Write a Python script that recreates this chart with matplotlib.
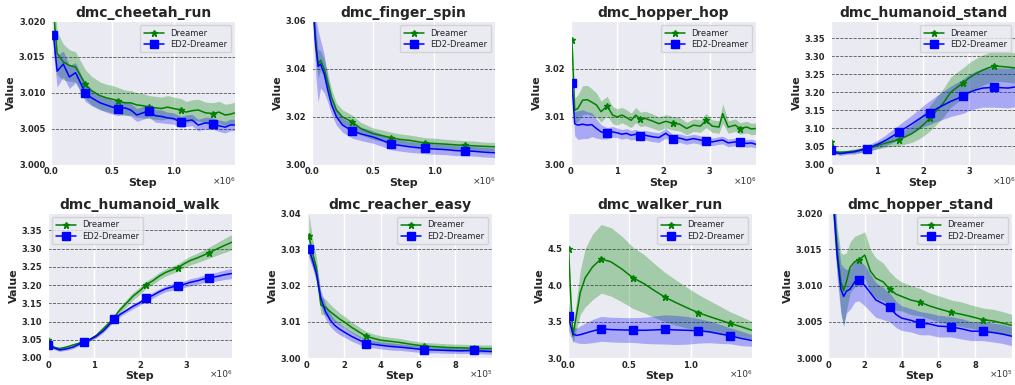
import matplotlib
matplotlib.use("Agg")
import numpy as np
import matplotlib.pyplot as plt
import seaborn as sns
from matplotlib.ticker import FormatStrFormatter, FuncFormatter

sns.set_style("darkgrid")
plt.rcParams['font.family'] = ['DejaVu Sans']
plt.rcParams['font.weight'] = 'bold'

# ---------------- data ----------------
# dmc_cheetah_run (steps in 1e6)
cheetah_steps = [0.02, 0.05, 0.1, 0.15, 0.2, 0.28, 0.33, 0.4, 0.45, 0.5, 0.55, 0.6, 0.65, 0.7, 0.75,
                 0.8, 0.85, 0.9, 0.95, 1.0, 1.06, 1.1, 1.15, 1.2, 1.26, 1.32, 1.37, 1.42, 1.46, 1.5]
cheetah_dreamer = [3.0215, 3.0155, 3.0143, 3.0138, 3.0136, 3.0112, 3.0103, 3.0096, 3.0093, 3.0091,
                   3.0089, 3.0086, 3.0086, 3.0083, 3.0082, 3.0080, 3.0079, 3.0078, 3.0080, 3.0078,
                   3.0076, 3.0073, 3.0075, 3.0076, 3.0072, 3.0071, 3.0073, 3.0069, 3.0070, 3.0072]
cheetah_dreamer_sd = [0.0040, 0.0030, 0.0025, 0.0022, 0.0021, 0.0020, 0.0020, 0.0019, 0.0019, 0.0019,
                      0.0018, 0.0018, 0.0017, 0.0017, 0.0017, 0.0016, 0.0016, 0.0016, 0.0016, 0.0016,
                      0.0016, 0.0015, 0.0015, 0.0015, 0.0015, 0.0015, 0.0015, 0.0015, 0.0015, 0.0015]
cheetah_ed2 = [3.0180, 3.0130, 3.0140, 3.0122, 3.0128, 3.0100, 3.0093, 3.0086, 3.0083, 3.0080,
               3.0078, 3.0079, 3.0076, 3.0069, 3.0072, 3.0075, 3.0068, 3.0067, 3.0065, 3.0064,
               3.0059, 3.0061, 3.0062, 3.0055, 3.0058, 3.0057, 3.0054, 3.0052, 3.0055, 3.0055]
cheetah_ed2_sd = [0.0025, 0.0022, 0.0018, 0.0016, 0.0014, 0.0012, 0.0011, 0.0010, 0.0010, 0.0010,
                  0.0010, 0.0009, 0.0009, 0.0009, 0.0009, 0.0009, 0.0009, 0.0009, 0.0008, 0.0008,
                  0.0008, 0.0008, 0.0008, 0.0008, 0.0008, 0.0008, 0.0008, 0.0008, 0.0008, 0.0008]

# dmc_finger_spin (steps in 1e6)
finger_steps = [0.01, 0.03, 0.05, 0.07, 0.1, 0.13, 0.16, 0.2, 0.25, 0.33, 0.4, 0.5, 0.58, 0.65, 0.72,
                0.8, 0.87, 0.93, 1.0, 1.1, 1.18, 1.25, 1.33, 1.4, 1.5]
finger_dreamer = [3.066, 3.052, 3.042, 3.0436, 3.040, 3.034, 3.028, 3.0227, 3.0199, 3.0178, 3.015,
                  3.0129, 3.012, 3.0112, 3.0105, 3.0101, 3.0095, 3.009, 3.0088, 3.0085, 3.0082,
                  3.008, 3.0078, 3.0076, 3.0074]
finger_dreamer_sd = [0.006, 0.006, 0.006, 0.004, 0.004, 0.004, 0.0035, 0.003, 0.003, 0.0028, 0.0026,
                     0.0024, 0.0024, 0.0023, 0.0023, 0.0022, 0.0022, 0.0022, 0.0022, 0.002, 0.002,
                     0.002, 0.002, 0.0018, 0.0018]
finger_ed2 = [3.065, 3.050, 3.041, 3.042, 3.038, 3.031, 3.025, 3.020, 3.0165, 3.014, 3.0128, 3.0115,
              3.0100, 3.0085, 3.0080, 3.0074, 3.0070, 3.0067, 3.0065, 3.0062, 3.0058, 3.0057,
              3.0055, 3.0052, 3.0049]
finger_ed2_sd = [0.008, 0.012, 0.015, 0.010, 0.008, 0.005, 0.004, 0.0035, 0.003, 0.003, 0.0028, 0.0026,
                 0.0025, 0.0024, 0.0024, 0.0023, 0.0022, 0.0022, 0.0022, 0.0021, 0.0021, 0.002,
                 0.002, 0.002, 0.002]

# dmc_hopper_hop (steps in 1e6)
hop_steps = [0.02, 0.08, 0.15, 0.25, 0.35, 0.45, 0.55, 0.65, 0.78, 0.9, 1.0, 1.1, 1.2, 1.3, 1.4, 1.5,
             1.6, 1.75, 1.9, 2.05, 2.2, 2.35, 2.5, 2.65, 2.8, 2.92, 3.05, 3.2, 3.28, 3.4, 3.55, 3.65,
             3.8, 3.9, 4.0]
hop_dreamer = [3.0260, 3.0113, 3.0117, 3.0134, 3.0135, 3.0130, 3.0124, 3.0110, 3.0122, 3.0103,
               3.0099, 3.0103, 3.0098, 3.0092, 3.0103, 3.0094, 3.0096, 3.0091, 3.0085, 3.0090,
               3.0086, 3.0084, 3.0075, 3.0082, 3.0080, 3.0092, 3.0080, 3.0078, 3.0106, 3.0078,
               3.0082, 3.0075, 3.0078, 3.0074, 3.0075]
hop_dreamer_sd = [0.0010, 0.0025, 0.0028, 0.0030, 0.0030, 0.0028, 0.0025, 0.0022, 0.0020, 0.0018,
                  0.0017, 0.0016, 0.0016, 0.0015, 0.0016, 0.0015, 0.0015, 0.0015, 0.0014, 0.0014,
                  0.0014, 0.0014, 0.0013, 0.0013, 0.0013, 0.0015, 0.0013, 0.0013, 0.0020, 0.0013,
                  0.0013, 0.0012, 0.0012, 0.0012, 0.0012]
hop_ed2 = [3.0169, 3.0085, 3.0082, 3.0084, 3.0082, 3.0083, 3.0075, 3.0068, 3.0065, 3.0068, 3.0066,
           3.0063, 3.0065, 3.0061, 3.0063, 3.0059, 3.0061, 3.0058, 3.0056, 3.0065, 3.0054, 3.0055,
           3.0051, 3.0054, 3.0051, 3.0049, 3.0047, 3.0050, 3.0051, 3.0045, 3.0047, 3.0047, 3.0044,
           3.0045, 3.0042]
hop_ed2_sd = [0.0015, 0.0025, 0.0030, 0.0030, 0.0028, 0.0025, 0.0020, 0.0015, 0.0012, 0.0011,
              0.0010, 0.0010, 0.0010, 0.0010, 0.0010, 0.0010, 0.0010, 0.0010, 0.0010, 0.0010,
              0.0009, 0.0009, 0.0009, 0.0009, 0.0009, 0.0009, 0.0008, 0.0008, 0.0008, 0.0008,
              0.0008, 0.0008, 0.0008, 0.0008, 0.0008]

# dmc_humanoid_stand (steps in 1e6)
hstand_steps = [0, 0.1, 0.2, 0.35, 0.5, 0.65, 0.78, 0.9, 1.05, 1.2, 1.33, 1.47, 1.6, 1.75, 1.9, 2.02,
                2.15, 2.3, 2.45, 2.6, 2.75, 2.88, 3.0, 3.15, 3.3, 3.42, 3.55, 3.7, 3.85, 4.0]
hstand_dreamer = [3.063, 3.035, 3.034, 3.035, 3.037, 3.040, 3.044, 3.048, 3.054, 3.060, 3.064, 3.069,
                  3.076, 3.085, 3.098, 3.112, 3.128, 3.150, 3.172, 3.200, 3.215, 3.227, 3.240, 3.252,
                  3.262, 3.268, 3.273, 3.272, 3.270, 3.268]
hstand_dreamer_sd = [0.008, 0.005, 0.005, 0.005, 0.006, 0.006, 0.007, 0.008, 0.010, 0.012, 0.014,
                     0.016, 0.020, 0.024, 0.028, 0.032, 0.035, 0.038, 0.040, 0.042, 0.042, 0.042,
                     0.042, 0.042, 0.042, 0.042, 0.042, 0.042, 0.042, 0.042]
hstand_ed2 = [3.040, 3.033, 3.030, 3.033, 3.035, 3.040, 3.044, 3.050, 3.058, 3.068, 3.078, 3.089,
              3.100, 3.112, 3.125, 3.135, 3.144, 3.155, 3.165, 3.175, 3.183, 3.190, 3.200, 3.207,
              3.212, 3.213, 3.214, 3.213, 3.212, 3.215]
hstand_ed2_sd = [0.006, 0.005, 0.005, 0.005, 0.006, 0.007, 0.008, 0.010, 0.012, 0.015, 0.018, 0.020,
                 0.022, 0.024, 0.027, 0.030, 0.033, 0.036, 0.039, 0.042, 0.045, 0.048, 0.050, 0.052,
                 0.053, 0.054, 0.055, 0.055, 0.055, 0.055]

# dmc_humanoid_walk (steps in 1e6)
hwalk_steps = [0, 0.12, 0.25, 0.4, 0.55, 0.68, 0.78, 0.9, 1.05, 1.2, 1.32, 1.43, 1.55, 1.7, 1.85, 2.0,
               2.13, 2.28, 2.42, 2.56, 2.7, 2.82, 2.95, 3.1, 3.25, 3.38, 3.5, 3.65, 3.82, 4.0]
hwalk_dreamer = [3.050, 3.030, 3.026, 3.030, 3.036, 3.041, 3.045, 3.050, 3.062, 3.080, 3.095, 3.110,
                 3.130, 3.150, 3.170, 3.185, 3.201, 3.212, 3.225, 3.235, 3.242, 3.2475, 3.258, 3.268,
                 3.275, 3.282, 3.289, 3.298, 3.308, 3.318]
hwalk_dreamer_sd = [0.004, 0.003, 0.003, 0.003, 0.003, 0.003, 0.004, 0.004, 0.005, 0.006, 0.007,
                    0.008, 0.009, 0.010, 0.010, 0.010, 0.010, 0.010, 0.010, 0.010, 0.010, 0.010,
                    0.011, 0.012, 0.013, 0.014, 0.015, 0.017, 0.019, 0.021]
hwalk_ed2 = [3.035, 3.028, 3.022, 3.025, 3.030, 3.038, 3.044, 3.050, 3.060, 3.074, 3.090, 3.106,
             3.118, 3.130, 3.142, 3.152, 3.164, 3.172, 3.182, 3.190, 3.195, 3.1985, 3.202, 3.208,
             3.212, 3.217, 3.220, 3.223, 3.228, 3.232]
hwalk_ed2_sd = [0.005, 0.004, 0.004, 0.004, 0.004, 0.004, 0.004, 0.004, 0.005, 0.005, 0.005, 0.006,
                0.006, 0.006, 0.007, 0.007, 0.007, 0.008, 0.008, 0.008, 0.009, 0.009, 0.009, 0.010,
                0.010, 0.010, 0.011, 0.012, 0.013, 0.014]

# dmc_reacher_easy (steps in 1e5)
reacher_steps = [0.1, 0.3, 0.5, 0.75, 1.0, 1.25, 1.5, 1.75, 2.0, 2.4, 2.8, 3.2, 3.6, 4.0, 4.5, 5.0,
                 5.6, 6.3, 7.0, 7.6, 8.3, 9.0, 9.5, 10.0]
reacher_dreamer = [3.0337, 3.029, 3.025, 3.0146, 3.0140, 3.0128, 3.0118, 3.0108, 3.0100, 3.0085,
                   3.0072, 3.0060, 3.0054, 3.0049, 3.0046, 3.0043, 3.0038, 3.0033, 3.0031, 3.0029,
                   3.0028, 3.0027, 3.0026, 3.0026]
reacher_dreamer_sd = [0.006, 0.004, 0.003, 0.0025, 0.0022, 0.002, 0.0018, 0.0017, 0.0016, 0.0015,
                      0.0014, 0.0013, 0.0012, 0.0012, 0.0011, 0.0011, 0.001, 0.001, 0.001, 0.001,
                      0.001, 0.001, 0.001, 0.001]
reacher_ed2 = [3.030, 3.027, 3.0234, 3.0165, 3.0128, 3.0105, 3.009, 3.008, 3.0072, 3.006, 3.0050,
               3.0040, 3.0038, 3.0035, 3.0032, 3.0030, 3.0027, 3.0023, 3.0022, 3.0021, 3.0020,
               3.0021, 3.0019, 3.0018]
reacher_ed2_sd = [0.002, 0.002, 0.0022, 0.0022, 0.002, 0.0018, 0.0016, 0.0015, 0.0014, 0.0013,
                  0.0012, 0.0011, 0.001, 0.001, 0.001, 0.0009, 0.0009, 0.0009, 0.0008, 0.0008,
                  0.0008, 0.0008, 0.0008, 0.0008]

# dmc_walker_run (steps in 1e6)
walker_steps = [0.005, 0.02, 0.04, 0.07, 0.1, 0.14, 0.2, 0.27, 0.35, 0.44, 0.53, 0.62, 0.7, 0.79,
                0.88, 0.97, 1.06, 1.15, 1.24, 1.32, 1.41, 1.5]
walker_dreamer = [4.50, 3.90, 3.30, 3.60, 3.90, 4.10, 4.25, 4.36, 4.32, 4.22, 4.10, 4.02, 3.93,
                  3.835, 3.76, 3.69, 3.623, 3.57, 3.52, 3.475, 3.43, 3.38]
walker_dreamer_sd = [0.05, 0.15, 0.10, 0.20, 0.30, 0.40, 0.45, 0.47, 0.47, 0.45, 0.42, 0.40, 0.37,
                     0.34, 0.31, 0.28, 0.25, 0.22, 0.19, 0.16, 0.14, 0.12]
walker_ed2 = [3.57, 3.45, 3.33, 3.31, 3.32, 3.34, 3.37, 3.40, 3.39, 3.385, 3.383, 3.38, 3.385,
              3.392, 3.385, 3.38, 3.374, 3.36, 3.33, 3.305, 3.27, 3.24]
walker_ed2_sd = [0.20, 0.15, 0.10, 0.10, 0.12, 0.14, 0.16, 0.17, 0.17, 0.17, 0.17, 0.18, 0.19,
                 0.20, 0.20, 0.19, 0.17, 0.15, 0.13, 0.11, 0.10, 0.08]

# dmc_hopper_stand (steps in 1e5)
hstand2_steps = [0.0, 0.3, 0.5, 0.7, 0.85, 1.0, 1.2, 1.45, 1.66, 2.0, 2.3, 2.6, 3.0, 3.35, 3.7, 4.0,
                 4.5, 5.0, 5.5, 6.0, 6.7, 7.3, 7.8, 8.4, 9.0, 9.5, 10.0]
hstand2_dreamer = [3.036, 3.022, 3.015, 3.0105, 3.0093, 3.0105, 3.0125, 3.0133, 3.0135, 3.0142,
                   3.012, 3.011, 3.0105, 3.0095, 3.0088, 3.0085, 3.008, 3.0077, 3.0072, 3.0068,
                   3.0063, 3.006, 3.0057, 3.0053, 3.0051, 3.0048, 3.0045]
hstand2_dreamer_sd = [0.003, 0.003, 0.003, 0.004, 0.005, 0.004, 0.0035, 0.0035, 0.0035, 0.0032,
                      0.003, 0.0028, 0.0026, 0.0024, 0.0022, 0.002, 0.002, 0.0019, 0.0018, 0.0018,
                      0.0017, 0.0017, 0.0016, 0.0016, 0.0016, 0.0016, 0.0015]
hstand2_ed2 = [3.035, 3.021, 3.014, 3.0095, 3.0085, 3.0092, 3.0095, 3.0105, 3.0107, 3.0100, 3.0090,
               3.0080, 3.0075, 3.0070, 3.0060, 3.0055, 3.0052, 3.0048, 3.0047, 3.0044, 3.0043,
               3.0040, 3.0037, 3.0037, 3.0035, 3.0033, 3.0030]
hstand2_ed2_sd = [0.003, 0.003, 0.003, 0.0035, 0.004, 0.003, 0.0028, 0.0028, 0.0028, 0.0028, 0.0026,
                  0.0024, 0.0022, 0.002, 0.0018, 0.0017, 0.0016, 0.0016, 0.0015, 0.0015, 0.0014,
                  0.0014, 0.0013, 0.0013, 0.0013, 0.0013, 0.0013]

# ---------------- panel settings ----------------
panels = [
    dict(title="dmc_cheetah_run", steps=cheetah_steps, exp=6, d=cheetah_dreamer, dsd=cheetah_dreamer_sd,
         e=cheetah_ed2, esd=cheetah_ed2_sd, xlim=1.5, xticks=[0, 0.5, 1.0], xfmt='%.1f', ylim=(3.0, 3.02),
         yticks=[3.0, 3.005, 3.01, 3.015, 3.02], yfmt='%.3f', loc='upper right',
         marks=[0, 5, 10, 15, 20, 25], box=(51, 235, 21, 164.5)),
    dict(title="dmc_finger_spin", steps=finger_steps, exp=6, d=finger_dreamer, dsd=finger_dreamer_sd,
         e=finger_ed2, esd=finger_ed2_sd, xlim=1.5, xticks=[0, 0.5, 1.0], xfmt='%.1f', ylim=(3.0, 3.06),
         yticks=[3.0, 3.02, 3.04, 3.06], yfmt='%.2f', loc='upper right',
         marks=[0, 9, 13, 17, 21], box=(312, 495, 21, 164.5)),
    dict(title="dmc_hopper_hop", steps=hop_steps, exp=6, d=hop_dreamer, dsd=hop_dreamer_sd,
         e=hop_ed2, esd=hop_ed2_sd, xlim=4.0, xticks=[0, 1, 2, 3], xfmt='%d', ylim=(3.0, 3.0299),
         yticks=[3.0, 3.01, 3.02], yfmt='%.2f', loc='upper right',
         marks=[0, 8, 15, 20, 25, 31], box=(571, 756, 21, 164.5)),
    dict(title="dmc_humanoid_stand", steps=hstand_steps, exp=6, d=hstand_dreamer, dsd=hstand_dreamer_sd,
         e=hstand_ed2, esd=hstand_ed2_sd, xlim=4.0, xticks=[0, 1, 2, 3], xfmt='%d', ylim=(3.0, 3.398),
         yticks=[3.0, 3.05, 3.1, 3.15, 3.2, 3.25, 3.3, 3.35], yfmt='%.2f', loc='upper right',
         marks=[0, 6, 11, 16, 21, 26], box=(831, 1015, 21, 164.5)),
    dict(title="dmc_humanoid_walk", steps=hwalk_steps, exp=6, d=hwalk_dreamer, dsd=hwalk_dreamer_sd,
         e=hwalk_ed2, esd=hwalk_ed2_sd, xlim=4.0, xticks=[0, 1, 2, 3], xfmt='%d', ylim=(3.0, 3.398),
         yticks=[3.0, 3.05, 3.1, 3.15, 3.2, 3.25, 3.3, 3.35], yfmt='%.2f', loc='upper left',
         marks=[0, 6, 11, 16, 21, 26], box=(48, 232, 213, 358)),
    dict(title="dmc_reacher_easy", steps=reacher_steps, exp=5, d=reacher_dreamer, dsd=reacher_dreamer_sd,
         e=reacher_ed2, esd=reacher_ed2_sd, xlim=10.0, xticks=[0, 2, 4, 6, 8], xfmt='%d', ylim=(3.0, 3.04),
         yticks=[3.0, 3.01, 3.02, 3.03, 3.04], yfmt='%.2f', loc='upper right',
         marks=[0, 11, 17, 21], box=(307, 492, 213, 358)),
    dict(title="dmc_walker_run", steps=walker_steps, exp=6, d=walker_dreamer, dsd=walker_dreamer_sd,
         e=walker_ed2, esd=walker_ed2_sd, xlim=1.5, xticks=[0, 0.5, 1.0], xfmt='%.1f', ylim=(3.0, 4.99),
         yticks=[3.0, 3.5, 4.0, 4.5], yfmt='%.1f', loc='upper right',
         marks=[0, 7, 10, 13, 16, 19], box=(568, 752, 213, 358)),
    dict(title="dmc_hopper_stand", steps=hstand2_steps, exp=5, d=hstand2_dreamer, dsd=hstand2_dreamer_sd,
         e=hstand2_ed2, esd=hstand2_ed2_sd, xlim=10.0, xticks=[0, 2, 4, 6, 8], xfmt='%d', ylim=(3.0, 3.02),
         yticks=[3.0, 3.005, 3.01, 3.015, 3.02], yfmt='%.3f', loc='upper right',
         marks=[0, 8, 13, 17, 20, 23], box=(828, 1012, 213, 358)),
]

SUPERSCRIPT = str.maketrans('0123456789', '⁰¹²³⁴⁵⁶⁷⁸⁹')

W, H = 1015, 385
fig = plt.figure(figsize=(W / 100, H / 100), dpi=100)

for p in panels:
    l, r, t, b = p['box']
    ax = fig.add_axes([l / W, 1 - b / H, (r - l) / W, (b - t) / H])
    scale = 10.0 ** p['exp']
    x = np.array(p['steps']) * scale
    d, dsd = np.array(p['d']), np.array(p['dsd'])
    e, esd = np.array(p['e']), np.array(p['esd'])

    ax.fill_between(x, d - dsd, d + dsd, color='green', alpha=0.3, lw=0)
    ax.fill_between(x, e - esd, e + esd, color='blue', alpha=0.28, lw=0)
    ax.plot(x, d, color='green', lw=1.1, marker='*', ms=5, markevery=p['marks'], label='Dreamer')
    ax.plot(x, e, color='blue', lw=1.1, marker='s', ms=5.5, markevery=p['marks'], label='ED2-Dreamer')

    ax.set_xlim(0, p['xlim'] * scale)
    ax.set_xticks([v * scale for v in p['xticks']])
    ax.xaxis.set_major_formatter(FuncFormatter(lambda v, pos, s=scale, f=p['xfmt']: f % (v / s)))
    ax.annotate('×10' + str(p['exp']).translate(SUPERSCRIPT), xy=(1, 0), xycoords='axes fraction',
                xytext=(0, -12), textcoords='offset points', ha='right', va='center',
                fontsize=6.5, fontweight='normal', color='#333333', annotation_clip=False)
    ax.set_ylim(*p['ylim'])
    ax.set_yticks(p['yticks'])
    ax.yaxis.set_major_formatter(FormatStrFormatter(p['yfmt']))

    ax.tick_params(axis='both', labelsize=6, length=0)
    ax.tick_params(axis='y', pad=4)
    ax.tick_params(axis='x', pad=2)

    ax.xaxis.grid(True, color='white', lw=1.0)
    ax.yaxis.grid(True, color='#555555', ls='--', lw=0.6)

    ax.set_title(p['title'], fontsize=10, fontweight='bold', pad=3)
    ax.set_xlabel('Step', fontsize=8, fontweight='bold', labelpad=1)
    ax.set_ylabel('Value', fontsize=8, fontweight='bold', labelpad=2)
    ax.legend(loc=p['loc'], prop={'size': 6, 'weight': 'normal'}, handlelength=2.4,
              borderpad=0.4, labelspacing=0.3)

fig.savefig('out.png', dpi=100)
